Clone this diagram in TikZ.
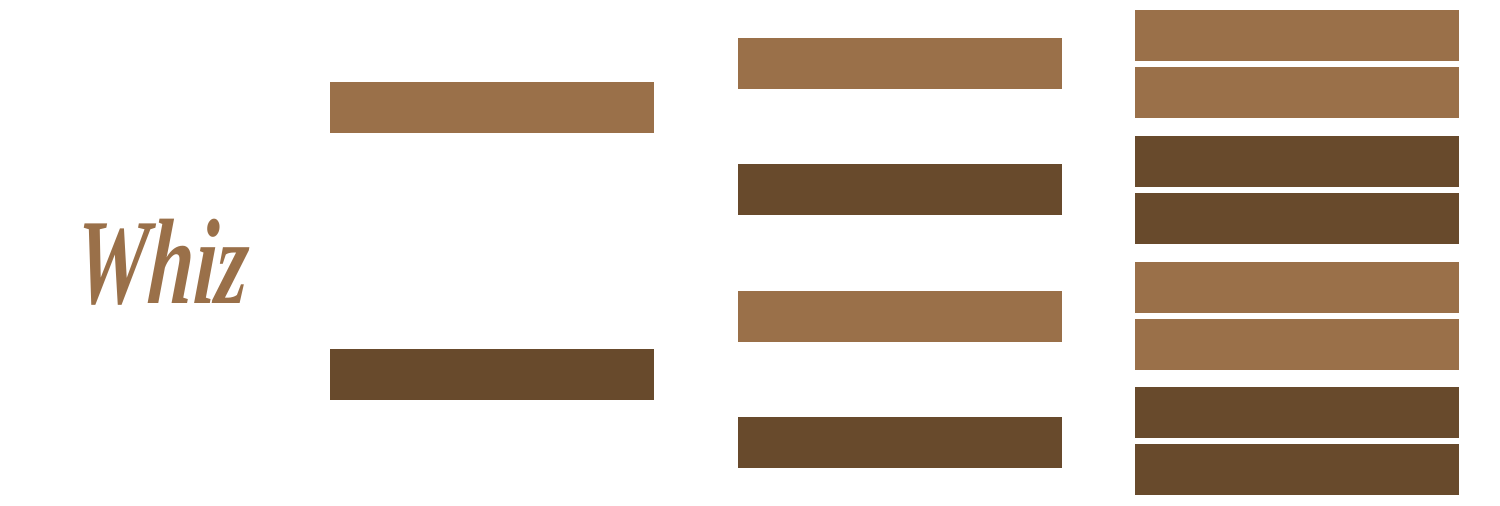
\documentclass[tikz,border=0pt]{standalone}
\usepackage{fontspec}
\newfontfamily\logofont{Liberation Serif}
\definecolor{lightbrown}{RGB}{154,112,73}
\definecolor{darkbrown}{RGB}{104,74,44}
\tikzset{
  bar/.style={rectangle, draw=none, anchor=north west, inner sep=0pt, outer sep=0pt,
    minimum width=324pt, minimum height=51pt},
  barL/.style={bar, fill=lightbrown},
  barD/.style={bar, fill=darkbrown},
  logo/.style={text=lightbrown, inner sep=0pt, font=\logofont\fontsize{76}{76}\selectfont\bfseries\itshape}
}
\begin{document}
\begin{tikzpicture}[x=1pt,y=-1pt]
\useasboundingbox (0,0) rectangle (1500,506);
% logo
\node[logo, xscale=1.08, yscale=1.6, xslant=0.1] (whiz) at (163,262) {Whiz};
% column 1
\node[barL] (a1) at (330,82) {};
\node[barD] (a2) at (330,349) {};
% column 2
\node[barL] (b1) at (738,38) {};
\node[barD] (b2) at (738,164) {};
\node[barL] (b3) at (738,291) {};
\node[barD] (b4) at (738,417) {};
% column 3
\node[barL] (c1) at (1135,10) {};
\node[barL] (c2) at (1135,67) {};
\node[barD] (c3) at (1135,136) {};
\node[barD] (c4) at (1135,193) {};
\node[barL] (c5) at (1135,262) {};
\node[barL] (c6) at (1135,319) {};
\node[barD] (c7) at (1135,387) {};
\node[barD] (c8) at (1135,444) {};
\end{tikzpicture}
\end{document}
